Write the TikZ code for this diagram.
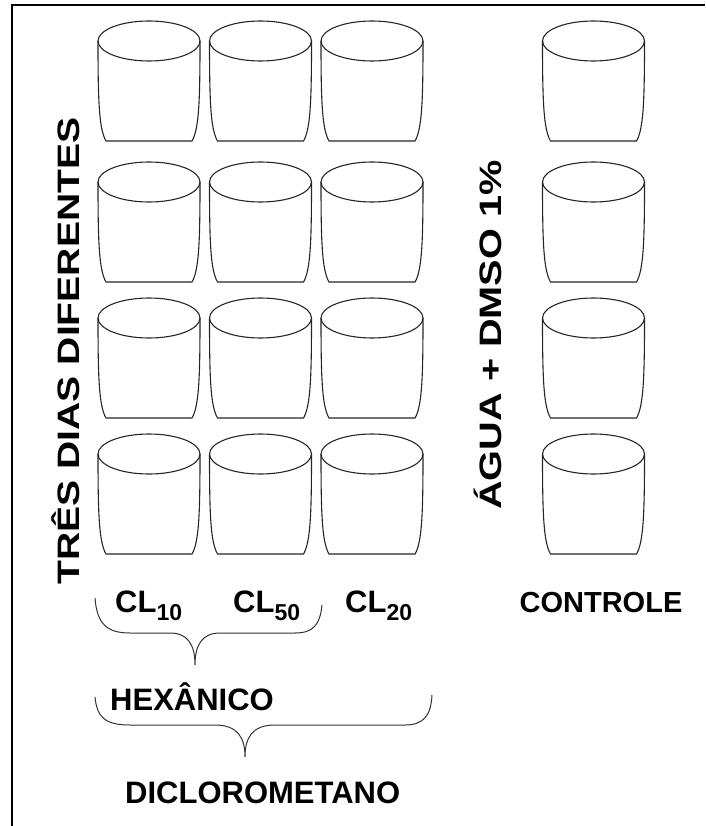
\documentclass[tikz,border=0pt]{standalone}
\usepackage{fontspec}
\setmainfont{Liberation Sans}
\begin{document}
\begin{tikzpicture}[x=1pt,y=-1pt,
  cupline/.style={line width=1.1pt,draw=black!85},
  lbl/.style={inner sep=0pt,font=\fontsize{31}{31}\selectfont\bfseries},
  cup/.pic={
    \draw[cupline] (0,0) ellipse [x radius=51pt, y radius=20pt];
    \draw[cupline] (-51,0) .. controls (-51,60) and (-50,88) .. (-43,100) -- (43,100) .. controls (50,88) and (51,60) .. (51,0);
  }]
\useasboundingbox (0,0) rectangle (705,826);
% frame
\draw[line width=2pt] (12,826) -- (12,5) -- (705,5);
% cups
\foreach \cx in {149,260.5,372,593.5}{
  \foreach \cy in {41,182,318,454}{
    \pic at (\cx,\cy) {cup};
  }
}
% rotated labels
\node[lbl,rotate=90] (dias) at (66,351) {\scalebox{1.26}[1]{TRÊS DIAS DIFERENTES}};
\node[lbl,rotate=90] (agua) at (488,335) {\scalebox{1.28}[1]{ÁGUA + DMSO 1\%}};
% bottom labels
\newcommand{\sbx}[1]{\raisebox{-8pt}{\fontsize{23}{23}\selectfont #1}}
\node[lbl,anchor=base west] (cl10) at (115,612) {CL\sbx{10}};
\node[lbl,anchor=base west] (cl50) at (233,612) {CL\sbx{50}};
\node[lbl,anchor=base west] (cl20) at (345,612) {CL\sbx{20}};
\node[lbl,anchor=base,font=\fontsize{29}{29}\selectfont\bfseries] (ctrl) at (601,612) {CONTROLE};
\node[lbl,anchor=base west] (hex) at (110,710) {HEXÂNICO};
\node[lbl,anchor=base west] (dcm) at (125,803) {DICLOROMETANO};
% braces
\draw[line width=1pt,draw=black!80] (95,598) .. controls (97,625) and (108,633) .. (130,633) -- (170,633) .. controls (188,633) and (195,645) .. (195,665) .. controls (195,645) and (202,633) .. (220,633) -- (295,633) .. controls (313,633) and (320,625) .. (322,605);
\draw[line width=1pt,draw=black!80] (95,697) .. controls (97,718) and (106,725) .. (130,725) -- (215,725) .. controls (238,725) and (245,738) .. (245,757) .. controls (245,738) and (252,725) .. (275,725) -- (405,725) .. controls (424,725) and (431,715) .. (432,695);
\end{tikzpicture}
\end{document}
